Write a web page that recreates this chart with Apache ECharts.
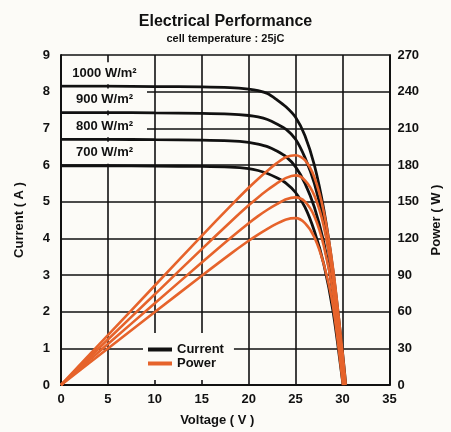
<!DOCTYPE html>
<html><head><meta charset="utf-8">
<script src="https://cdn.jsdelivr.net/npm/echarts@6/dist/echarts.min.js"></script>
<style>html,body{margin:0;padding:0;background:#fcfbf7}#c{width:451px;height:432px}</style>
</head><body><div id="c"></div>
<script>
const FONT = "'Liberation Sans','Arial',sans-serif";
const irradianceLabels = ['1000 W/m²', '900 W/m²', '800 W/m²', '700 W/m²'];
const voltages = [0, 5, 10, 15, 18, 20, 21, 22, 23, 24, 25, 26, 27, 28, 29, 30];
const openCircuitV = [30.35, 30.25, 30.15, 30.05];
const current1000 = [8.15, 8.15, 8.14, 8.13, 8.11, 8.07, 8.03, 7.95, 7.78, 7.58, 7.3, 6.8, 6.0, 4.8, 3.1, 0.9];
const current900  = [7.43, 7.43, 7.42, 7.41, 7.39, 7.35, 7.31, 7.24, 7.12, 6.97, 6.7, 6.2, 5.5, 4.45, 2.85, 0.6];
const current800  = [6.70, 6.70, 6.69, 6.68, 6.66, 6.62, 6.57, 6.5, 6.38, 6.22, 5.95, 5.5, 4.85, 3.9, 2.5, 0.35];
const current700  = [5.98, 5.98, 5.97, 5.96, 5.94, 5.9, 5.85, 5.77, 5.65, 5.5, 5.25, 4.85, 4.2, 3.3, 2.0, 0.12];
const power1000 = [0, 40.8, 81.4, 122, 146, 161.4, 168.6, 175.3, 181.5, 186.5, 188, 184, 170, 142, 95, 27];
const power900  = [0, 37.2, 74.2, 111.2, 133, 147, 153.5, 159.5, 165, 169.5, 171.5, 167.5, 155, 130, 86, 18];
const power800  = [0, 33.5, 66.9, 100.2, 119.9, 132.4, 138.2, 143.4, 148, 152, 153.5, 150, 138, 114, 75, 10.5];
const power700  = [0, 29.9, 59.7, 89.4, 106.9, 118, 123.1, 127.8, 132, 135.5, 136.5, 132.5, 121, 99, 64, 3.6];
const currents = [current1000, current900, current800, current700];
const powers = [power1000, power900, power800, power700];

const BLACK = '#111111', ORANGE = '#e6632b', BG = '#fcfbf7';
function pts(vals, voc) {
  const d = voltages.map((v, i) => [v, vals[i]]);
  d.push([voc, 0]);
  return d;
}
const series = [];
currents.forEach((c, k) => {
  series.push({
    name: 'Current', type: 'line', yAxisIndex: 0, data: pts(c, openCircuitV[k]),
    showSymbol: false, smooth: 0.3,
    lineStyle: { color: BLACK, width: 2.8 }, itemStyle: { color: BLACK },
    z: 3,
    markPoint: {
      symbol: 'circle', symbolSize: 0, silent: true,
      data: [{ coord: [0, c[0]] }],
      label: {
        show: true, position: 'right', distance: 1, offset: [0, -13],
        formatter: '{a|' + irradianceLabels[k] + '}',
        rich: { a: { width: 85, height: 22, lineHeight: 22, align: 'center', backgroundColor: BG,
          color: '#111', fontSize: 13, fontWeight: 'bold', fontFamily: FONT } }
      }
    }
  });
});
powers.forEach((p, k) => {
  series.push({
    name: 'Power', type: 'line', yAxisIndex: 1, data: pts(p, openCircuitV[k]),
    showSymbol: false, smooth: 0.3,
    lineStyle: { color: ORANGE, width: 2.6 }, itemStyle: { color: ORANGE },
    z: 4
  });
});

const axisText = { fontSize: 13, fontWeight: 'bold', color: '#111', fontFamily: FONT };
const chart = echarts.init(document.getElementById('c'), null, { renderer: 'canvas' });
chart.setOption({
  backgroundColor: BG,
  animation: false,
  textStyle: { fontFamily: FONT },
  title: {
    text: 'Electrical Performance', subtext: 'cell temperature : 25jC',
    left: 'center', top: 9, itemGap: 3,
    textStyle: { fontSize: 16, fontWeight: 'bold', color: '#111', fontFamily: FONT },
    subtextStyle: { fontSize: 11, fontWeight: 'bold', color: '#111', fontFamily: FONT }
  },
  legend: {
    orient: 'vertical', left: 143, top: 333,
    padding: [10, 10, 10, 5], itemGap: 1,
    backgroundColor: BG,
    icon: 'rect', itemWidth: 24, itemHeight: 4,
    data: ['Current', 'Power'],
    textStyle: axisText
  },
  grid: { left: 61, right: 59, top: 55, bottom: 46, containLabel: false },
  xAxis: {
    type: 'value', min: 0, max: 35, interval: 5,
    name: 'Voltage ( V )', nameLocation: 'middle', nameGap: 29,
    nameTextStyle: Object.assign({ padding: [0, 16, 0, 0] }, axisText),
    axisLine: { show: true, lineStyle: { color: '#111', width: 2 } },
    axisTick: { show: false },
    axisLabel: Object.assign({ margin: 8 }, axisText),
    splitLine: { show: true, lineStyle: { color: '#111', width: 1.6 } }
  },
  yAxis: [{
    type: 'value', min: 0, max: 9, interval: 1,
    name: 'Current ( A )', nameLocation: 'middle', nameGap: 35, nameRotate: 90,
    nameTextStyle: axisText,
    axisLine: { show: true, lineStyle: { color: '#111', width: 2 } },
    axisTick: { show: false },
    axisLabel: Object.assign({ margin: 11 }, axisText),
    splitLine: { show: true, lineStyle: { color: '#111', width: 1.6 } }
  }, {
    type: 'value', min: 0, max: 270, interval: 30, position: 'right',
    name: 'Power ( W )', nameLocation: 'middle', nameGap: 38, nameRotate: 90,
    nameTextStyle: axisText,
    axisLine: { show: true, lineStyle: { color: '#111', width: 2 } },
    axisTick: { show: false },
    axisLabel: Object.assign({ margin: 8 }, axisText),
    splitLine: { show: false }
  }],
  series: series
});
</script></body></html>
